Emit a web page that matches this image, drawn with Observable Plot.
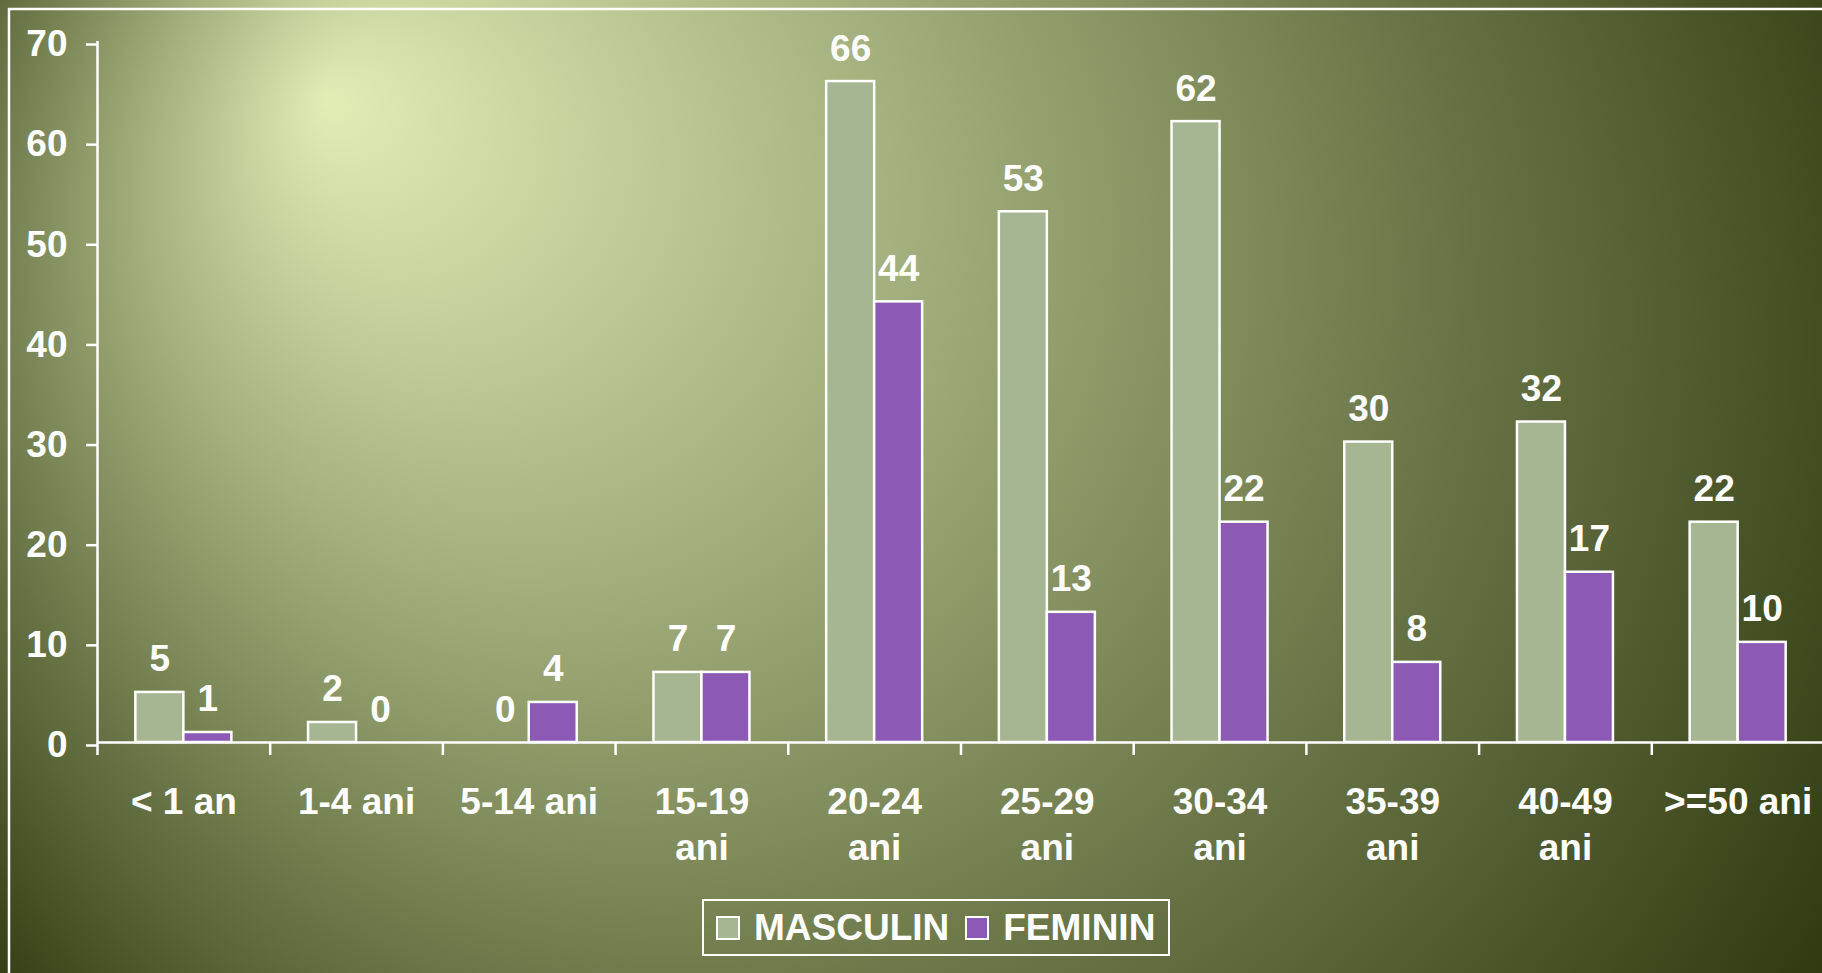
<!DOCTYPE html>
<html>
<head>
<meta charset="utf-8">
<script src="https://cdn.jsdelivr.net/npm/d3@7"></script>
<script src="https://cdn.jsdelivr.net/npm/@observablehq/plot@0.6"></script>
<style>
  html, body { margin: 0; padding: 0; overflow: hidden; background: #1e2800; }
  #wrap { position: relative; width: 1822px; height: 973px; overflow: hidden;
          font-family: "Liberation Sans", Arial, Helvetica, sans-serif; font-weight: bold; color: #fff; }
  #bg { position: absolute; left: 0; top: 0; }
  #chart { position: absolute; left: 0; top: 0; }
  #legend { position: absolute; left: 702px; top: 899px; height: 57px; box-sizing: border-box;
            border: 2.5px solid #fff; display: flex; align-items: center; padding: 0 13px 0 12px;
            font-size: 37px; line-height: 1; white-space: nowrap; }
  #legend .sw { width: 20px; height: 20px; border: 2px solid #fff; display: inline-block; margin-right: 14px; }
  #legend .item { display: flex; align-items: center; margin-right: 16px; }
  #legend .item:last-child { margin-right: 0; }
</style>
</head>
<body>
<div id="wrap">
  <div id="chart"></div>
  <div id="legend"></div>
</div>
<script>
// ---- data ----
const categories = ["< 1 an", "1-4 ani", "5-14 ani", "15-19\nani", "20-24\nani", "25-29\nani", "30-34\nani", "35-39\nani", "40-49\nani", ">=50 ani"];
const masculin = [5, 2, 0, 7, 66, 53, 62, 30, 32, 22];
const feminin = [1, 0, 4, 7, 44, 13, 22, 8, 17, 10];
const seriesNames = ["MASCULIN", "FEMININ"];
const seriesColors = ["#a6b592", "#8c59b4"];
const yTicks = [0, 10, 20, 30, 40, 50, 60, 70];

// ---- layout ----
const W = 1822, H = 973, SVG_H = 880;
const X0 = 97, X1 = 1824, Y0 = 742, Y1 = 41;
const step = (X1 - X0) / categories.length;
const BAR = 48;
const pad = 1 - BAR / step;
const FONT = 37;

// ---- background ----
const bg = d3.select("#wrap").insert("svg", "#chart").attr("id", "bg").attr("width", W).attr("height", H);
const grad = bg.append("defs").append("radialGradient").attr("id", "bgGrad")
  .attr("gradientUnits", "userSpaceOnUse")
  .attr("cx", 955).attr("cy", 405).attr("r", 1213).attr("fx", 325).attr("fy", 100);
grad.append("stop").attr("offset", 0).attr("stop-color", "#e0edb5");
grad.append("stop").attr("offset", 1).attr("stop-color", "#1e2800");
bg.append("rect").attr("width", W).attr("height", H).attr("fill", "url(#bgGrad)");
bg.append("rect").attr("x", 9).attr("y", 9).attr("width", W + 20).attr("height", H + 20)
  .attr("fill", "none").attr("stroke", "#fff").attr("stroke-width", 2.5);

// ---- chart ----
const rows = categories.map((c, i) => ({cat: c, m: masculin[i], f: feminin[i]}));
const textStyle = {fill: "white", fontSize: FONT, fontWeight: "bold", lineAnchor: "bottom", dy: -21};

const chart = Plot.plot({
  width: W,
  height: SVG_H,
  marginLeft: X0,
  marginRight: 0,
  marginTop: Y1,
  marginBottom: SVG_H - Y0,
  style: {background: "transparent", color: "white", fontFamily: "'Liberation Sans', Arial, sans-serif", fontWeight: "bold", overflow: "visible"},
  x: {type: "band", domain: categories, range: [X0, X1], paddingInner: pad, paddingOuter: pad / 2, round: false, label: null},
  y: {domain: [0, 70], range: [Y0, Y1], label: null},
  marks: [
    Plot.barY(rows, {x: "cat", y: "m", fill: seriesColors[0], stroke: "white", strokeWidth: 2.5, dx: -BAR / 2}),
    Plot.barY(rows, {x: "cat", y: "f", fill: seriesColors[1], stroke: "white", strokeWidth: 2.5, dx: BAR / 2}),
    Plot.text(rows, {x: "cat", y: "m", text: d => String(d.m), dx: -BAR / 2, ...textStyle}),
    Plot.text(rows, {x: "cat", y: "f", text: d => String(d.f), dx: BAR / 2, ...textStyle}),
    Plot.ruleY([0], {stroke: "white", strokeWidth: 2.5}),
    Plot.ruleX(categories, {x: d => d, y1: 0, y2: 0, insetBottom: -13, dx: -step / 2, stroke: "white", strokeWidth: 2.5}),
    Plot.ruleX([categories[0]], {x: d => d, y1: 0, y2: 70, dx: -step / 2, stroke: "white", strokeWidth: 2.5}),
    Plot.axisY({ticks: yTicks, tickSize: 11, tickPadding: 19, tickFormat: d => String(d), strokeWidth: 2.5, stroke: "white", fill: "white", fontSize: FONT, fontWeight: "bold", dy: 3, label: null}),
    Plot.axisX({tickSize: 0, tickPadding: 39, lineHeight: 1.243, fontSize: FONT, fontWeight: "bold", fill: "white", label: null})
  ]
});
document.getElementById("chart").appendChild(chart);

// ---- legend ----
const legend = d3.select("#legend");
seriesNames.forEach((name, i) => {
  const item = legend.append("div").attr("class", "item");
  item.append("span").attr("class", "sw").style("background", seriesColors[i]);
  item.append("span").text(name);
});
</script>
</body>
</html>
